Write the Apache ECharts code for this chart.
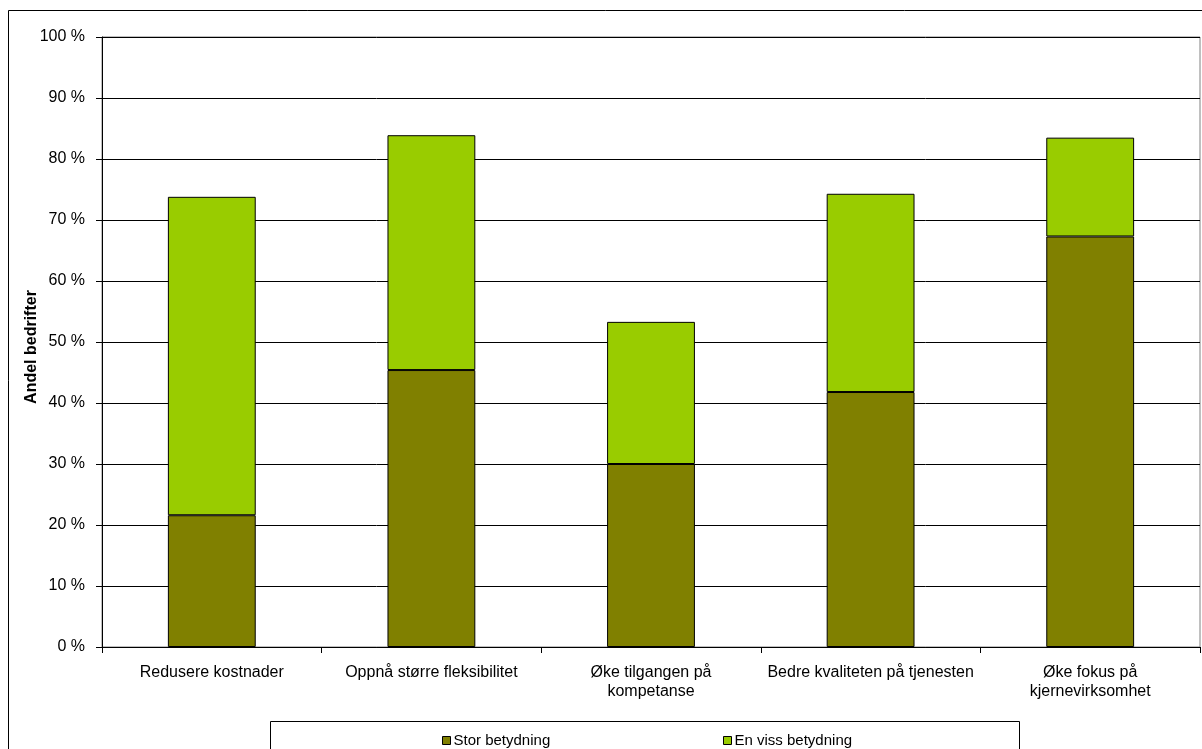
<!DOCTYPE html>
<html>
<head>
<meta charset="utf-8">
<script src="https://cdn.jsdelivr.net/npm/echarts@6/dist/echarts.min.js"></script>
<style>
  html, body { margin: 0; padding: 0; background: #fff; }
  #chart { width: 1202px; height: 749px; }
</style>
</head>
<body>
<div id="chart"></div>
<script>
const categories = [
  'Redusere kostnader',
  'Oppnå større fleksibilitet',
  'Øke tilgangen på\nkompetanse',
  'Bedre kvaliteten på tjenesten',
  'Øke fokus på\nkjernevirksomhet'
];
const storBetydning = [21.6, 45.4, 30.0, 41.8, 67.3];
const envissBetydning = [52.2, 38.5, 23.3, 32.5, 16.2];
const seriesNames = ['Stor betydning', 'En viss betydning'];
const yAxisName = 'Andel bedrifter';

const FONT = '"Liberation Sans", Arial, sans-serif';
const chart = echarts.init(document.getElementById('chart'), null, { renderer: 'canvas' });

chart.setOption({
  animation: false,
  backgroundColor: '#fff',
  textStyle: { fontFamily: FONT },
  grid: { left: 102, right: 2, top: 37, bottom: 102, show: true, borderColor: '#808080', borderWidth: 1, backgroundColor: 'transparent' },
  graphic: [
    { type: 'rect', shape: { x: 8.5, y: 10.5, width: 1210, height: 800 }, style: { fill: 'none', stroke: '#000', lineWidth: 1 }, z: -10 },
    { type: 'rect', shape: { x: 270.5, y: 721.5, width: 749, height: 60 }, style: { fill: 'none', stroke: '#000', lineWidth: 1 }, z: -10 }
  ],
  legend: [
    { data: [seriesNames[0]], left: 437, top: 728, icon: 'rect', itemWidth: 8, itemHeight: 8,
      itemStyle: { borderColor: '#000', borderWidth: 1 },
      textStyle: { fontSize: 15, color: '#000', fontFamily: FONT, padding: [0, 0, 0, -2] } },
    { data: [seriesNames[1]], left: 718, top: 728, icon: 'rect', itemWidth: 8, itemHeight: 8,
      itemStyle: { borderColor: '#000', borderWidth: 1 },
      textStyle: { fontSize: 15, color: '#000', fontFamily: FONT, padding: [0, 0, 0, -2] } }
  ],
  xAxis: {
    type: 'category',
    data: categories,
    boundaryGap: true,
    axisLine: { lineStyle: { color: '#000', width: 1 } },
    axisTick: { show: true, length: 6, lineStyle: { color: '#000' } },
    axisLabel: { interval: 0, color: '#000', fontSize: 16, margin: 16, lineHeight: 19, fontFamily: FONT }
  },
  yAxis: {
    type: 'value',
    min: 0, max: 100, interval: 10,
    name: yAxisName,
    nameLocation: 'middle',
    nameGap: 62,
    nameMoveOverlap: false,
    nameTextStyle: { fontWeight: 'bold', fontSize: 16, color: '#000', fontFamily: FONT, padding: [0, 10, 0, 0] },
    axisLine: { show: true, lineStyle: { color: '#000', width: 1 } },
    axisTick: { show: true, length: 6, lineStyle: { color: '#000' } },
    axisLabel: { formatter: '{value} %', color: '#000', fontSize: 16, margin: 17, fontFamily: FONT },
    splitLine: { show: true, lineStyle: { color: '#000', width: 1 } }
  },
  series: [
    { name: seriesNames[0], type: 'bar', stack: 'total', data: storBetydning, barWidth: '40%',
      itemStyle: { color: '#808000', borderColor: '#000', borderWidth: 1 } },
    { name: seriesNames[1], type: 'bar', stack: 'total', data: envissBetydning, barWidth: '40%',
      itemStyle: { color: '#99CC00', borderColor: '#000', borderWidth: 1 } }
  ]
});
</script>
</body>
</html>
